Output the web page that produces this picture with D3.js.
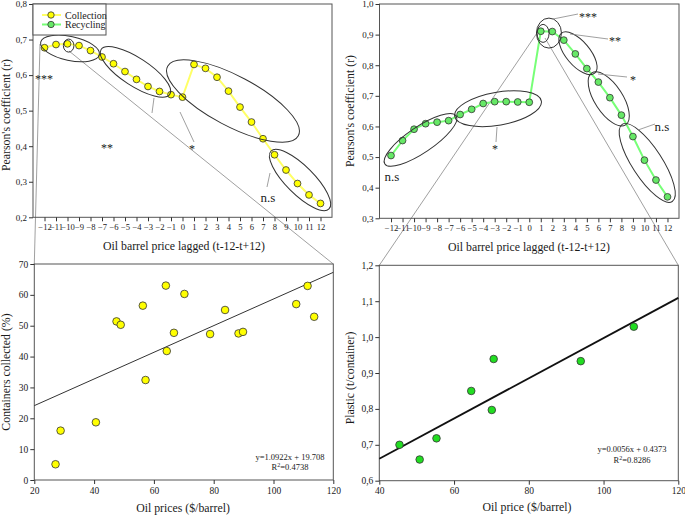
<!DOCTYPE html>
<html><head><meta charset="utf-8">
<script src="https://cdn.jsdelivr.net/npm/d3@7/dist/d3.min.js"></script>
<style>
body{margin:0;background:#fff}
</style>
</head><body>
<svg id="c" width="685" height="518" font-family="'Liberation Serif', serif"></svg>
<script>
// ---------------- DATA ----------------
const lags = [-12,-11,-10,-9,-8,-7,-6,-5,-4,-3,-2,-1,0,1,2,3,4,5,6,7,8,9,10,11,12];
const collection = [0.677,0.686,0.688,0.683,0.669,0.651,0.632,0.610,0.588,0.568,0.554,0.545,0.538,0.630,0.619,0.594,0.555,0.510,0.468,0.421,0.376,0.333,0.295,0.263,0.239];
const recycling  = [0.505,0.554,0.591,0.609,0.614,0.619,0.639,0.656,0.675,0.681,0.681,0.680,0.679,0.911,0.910,0.882,0.837,0.789,0.745,0.694,0.637,0.567,0.490,0.425,0.370];
const lagTicks = lags;
const topLeftYTicks = [0.2,0.3,0.4,0.5,0.6,0.7,0.8];
const topRightYTicks = [0.3,0.4,0.5,0.6,0.7,0.8,0.9,1.0];

const oilPricesCollection = [27.1,28.8,40.6,47.5,48.9,56.3,57.2,64.0,64.3,66.7,70.2,78.8,83.8,88.3,89.8,107.6,111.4,113.6];
const containersCollected = [5.1,16.0,18.7,51.4,50.3,56.5,32.4,63.0,41.8,47.7,60.3,47.3,55.1,47.5,48.0,57.0,62.9,52.9];
const collectionFitX = [20,120];
const collectionFitY = [24.1,67.3];
const collectionEquation = ["y=1.0922x + 19.708","=0.4738"];

const oilPricesPlastic = [45.4,50.8,55.3,64.6,70.1,70.6,93.9,108.1];
const plasticPerContainer = [0.700,0.659,0.718,0.850,0.797,0.939,0.933,1.029];
const plasticSlope = 0.0056, plasticIntercept = 0.4373;
const plasticEquation = ["y=0.0056x + 0.4373","=0.8286"];

const blXTicks = [20,40,60,80,100,120];
const blYTicks = [0,10,20,30,40,50,60,70];
const brXTicks = [40,60,80,100,120];
const brYTicks = [0.6,0.7,0.8,0.9,1.0,1.1,1.2];

const seriesNames = ["Collection","Recycling"];

// ---------------- LAYOUT ----------------
const FONT = "'Liberation Serif', serif";
const svg = d3.select("#c");
const comma1 = d => d3.format(".1f")(d).replace(".", ",");
const C = {yellowFill:"#ffff00", yellowLine:"#ffff66", greenFill:"#66e866", greenLine:"#77ff77", greenDot:"#22dd22", ink:"#333", text:"#1a1a1a"};

const tl = {x:d3.scaleLinear().domain([-13,13]).range([33,332]), y:d3.scaleLinear().domain([0.2,0.8]).range([217.3,4])};
const tr = {x:d3.scaleLinear().domain([-13,13]).range([379.5,679]), y:d3.scaleLinear().domain([0.3,1.0]).range([218.3,4])};
const bl = {x:d3.scaleLinear().domain([20,120]).range([34.3,333.3]), y:d3.scaleLinear().domain([0,70]).range([480,264])};
const br = {x:d3.scaleLinear().domain([40,120]).range([379.3,678.3]), y:d3.scaleLinear().domain([0.6,1.2]).range([480.7,265.3])};

function txt(x,y,t,fs,anchor){
  return svg.append("text").attr("x",x).attr("y",y).attr("text-anchor",anchor||"middle")
    .attr("font-size",fs).attr("font-family",FONT).attr("fill",C.text).text(t);
}
function frame(p){
  const [x0,x1]=p.x.range(), [y1,y0]=p.y.range();
  svg.append("rect").attr("x",x0).attr("y",y0).attr("width",x1-x0).attr("height",y1-y0)
    .attr("fill","none").attr("stroke","#555").attr("stroke-width",1);
}
function axes(p, xt, yt, xf, yf, fsx, fsy){
  const [y1]=p.y.range(), [x0]=p.x.range();
  const gx = svg.append("g").attr("transform",`translate(0,${y1})`)
    .call(d3.axisBottom(p.x).tickValues(xt).tickFormat(xf).tickSize(4).tickPadding(3));
  const gy = svg.append("g").attr("transform",`translate(${x0},0)`)
    .call(d3.axisLeft(p.y).tickValues(yt).tickFormat(yf).tickSize(4).tickPadding(2));
  [[gx,fsx],[gy,fsy]].forEach(([g,fs])=>{
    g.attr("font-family",FONT);
    g.select(".domain").remove();
    g.selectAll("line").attr("stroke",C.ink);
    g.selectAll("text").attr("font-size",fs).attr("fill",C.text).attr("font-family",FONT);
  });
}
function ytitle(x,y,t){ svg.append("text").attr("transform",`translate(${x},${y}) rotate(-90)`).attr("text-anchor","middle").attr("font-size",11.8).attr("font-family",FONT).attr("fill",C.text).text(t); }
function xtitle(x,y,t){ txt(x,y,t,11.8); }
function ellipse(p, cx, cy, rx, ry, ang){
  svg.append("ellipse").attr("transform",`translate(${p.x(cx)},${p.y(cy)}) rotate(${ang})`)
    .attr("rx",rx).attr("ry",ry).attr("fill","none").attr("stroke","#333").attr("stroke-width",1);
}
function thin(x1,y1,x2,y2){
  svg.append("line").attr("x1",x1).attr("y1",y1).attr("x2",x2).attr("y2",y2)
    .attr("stroke","#888").attr("stroke-width",0.8);
}

// ---------- zoom connector lines (behind) ----------
thin(40,44, bl.x.range()[0], bl.y.range()[1]);
thin(69,51, bl.x.range()[1], bl.y.range()[1]);
thin(537,33, br.x.range()[0], br.y.range()[1]);
thin(545,38, br.x.range()[1], br.y.range()[1]);

// ---------------- TOP LEFT ----------------
frame(tl);
axes(tl, lagTicks, topLeftYTicks, d3.format("d"), comma1, 8.6, 9);
const line = (p)=>d3.line().x((d,i)=>p.x(lags[i])).y(d=>p.y(d));
svg.append("path").datum(collection).attr("d",line(tl)).attr("fill","none").attr("stroke",C.yellowLine).attr("stroke-width",2);
svg.selectAll(".cdot").data(collection).join("circle").attr("cx",(d,i)=>tl.x(lags[i])).attr("cy",d=>tl.y(d))
  .attr("r",3.4).attr("fill",C.yellowFill).attr("stroke","#333").attr("stroke-width",0.8);

ellipse(tl,-9.78,0.675,30,12,12);
ellipse(tl,-9.9,0.683,5.3,6.5,0);
ellipse(tl,-4.09,0.609,41,14,33);
ellipse(tl,4.39,0.527,74,25,28);
ellipse(tl,10.22,0.305,41,14,45);
thin(194,142,180,112);
thin(152,113,154,98);
thin(267,187,270,173);
txt(44,83,"***",12);
txt(107,152,"**",12);
txt(192,153,"*",12);
txt(268,202,"n.s",13);

// legend
svg.append("rect").attr("x",33).attr("y",4).attr("width",73).attr("height",31).attr("fill","#fff").attr("stroke","#555");
[[seriesNames[0],C.yellowLine,C.yellowFill,15],[seriesNames[1],C.greenLine,C.greenFill,24.5]].forEach(([n,lc,fc,y])=>{
  svg.append("line").attr("x1",42).attr("x2",61).attr("y1",y).attr("y2",y).attr("stroke",lc).attr("stroke-width",2);
  svg.append("circle").attr("cx",51).attr("cy",y).attr("r",3.2).attr("fill",fc).attr("stroke","#333").attr("stroke-width",0.8);
  txt(65,y+3.5,n,10,"start");
});
ytitle(10,115,"Pearson's coefficient (r)");
xtitle(184,250,"Oil barrel price lagged (t-12-t+12)");

// ---------------- TOP RIGHT ----------------
frame(tr);
axes(tr, lagTicks, topRightYTicks, d3.format("d"), comma1, 8.6, 9);
svg.append("path").datum(recycling).attr("d",line(tr)).attr("fill","none").attr("stroke",C.greenLine).attr("stroke-width",2);
svg.selectAll(".rdot").data(recycling).join("circle").attr("cx",(d,i)=>tr.x(lags[i])).attr("cy",d=>tr.y(d))
  .attr("r",3.4).attr("fill",C.greenFill).attr("stroke","#333").attr("stroke-width",0.8);

ellipse(tr,-9.44,0.556,43,13,-34);
ellipse(tr,-2.71,0.658,44,16.5,-10);
ellipse(tr,1.2,0.904,6,9,0);
ellipse(tr,1.71,0.905,12.5,15,0);
ellipse(tr,4.23,0.839,26,12,50);
ellipse(tr,6.9,0.690,31,14,57);
ellipse(tr,10.24,0.481,46,15,57);
thin(553,19,578,14);
thin(570,34,608,39);
thin(598,74,627,77);
thin(638,130,655,124);
thin(497,127,496,142);
txt(588,21,"***",12);
txt(615,45,"**",12);
txt(633,84,"*",12);
txt(662,131,"n.s",13);
txt(392,181,"n.s",13);
txt(495,153,"*",12);
ytitle(354,111,"Pearson's coefficient (r)");
xtitle(529,251,"Oil barrel price lagged (t-12-t+12)");

// ---------------- BOTTOM LEFT ----------------
frame(bl);
axes(bl, blXTicks, blYTicks, d3.format("d"), d3.format("d"), 9.5, 9.5);
svg.append("line").attr("x1",bl.x(collectionFitX[0])).attr("y1",bl.y(collectionFitY[0]))
  .attr("x2",bl.x(collectionFitX[1])).attr("y2",bl.y(collectionFitY[1])).attr("stroke","#333").attr("stroke-width",1);
svg.selectAll(".bdot").data(oilPricesCollection).join("circle").attr("cx",d=>bl.x(d)).attr("cy",(d,i)=>bl.y(containersCollected[i]))
  .attr("r",3.8).attr("fill",C.yellowFill).attr("stroke","#333").attr("stroke-width",0.8);
txt(290,460,collectionEquation[0],8.5);
const r2a = txt(290,470,"R",8.5);
r2a.append("tspan").attr("dy",-3).attr("font-size",6).text("2");
r2a.append("tspan").attr("dy",3).text(collectionEquation[1]);
ytitle(10,372,"Containers collected (%)");
xtitle(183,512,"Oil prices ($/barrel)");

// ---------------- BOTTOM RIGHT ----------------
frame(br);
axes(br, brXTicks, brYTicks, d3.format("d"), comma1, 9.5, 9.5);
svg.append("line").attr("x1",br.x(40)).attr("y1",br.y(plasticSlope*40+plasticIntercept))
  .attr("x2",br.x(120)).attr("y2",br.y(plasticSlope*120+plasticIntercept)).attr("stroke","#111").attr("stroke-width",1.8);
svg.selectAll(".gdot").data(oilPricesPlastic).join("circle").attr("cx",d=>br.x(d)).attr("cy",(d,i)=>br.y(plasticPerContainer[i]))
  .attr("r",3.8).attr("fill",C.greenDot).attr("stroke","#333").attr("stroke-width",0.8);
txt(632,452,plasticEquation[0],8.5);
const r2b = txt(632,463,"R",8.5);
r2b.append("tspan").attr("dy",-3).attr("font-size",6).text("2");
r2b.append("tspan").attr("dy",3).text(plasticEquation[1]);
ytitle(354,378,"Plastic (t/container)");
xtitle(527,511,"Oil price ($/barrel)");
</script>
</body></html>
